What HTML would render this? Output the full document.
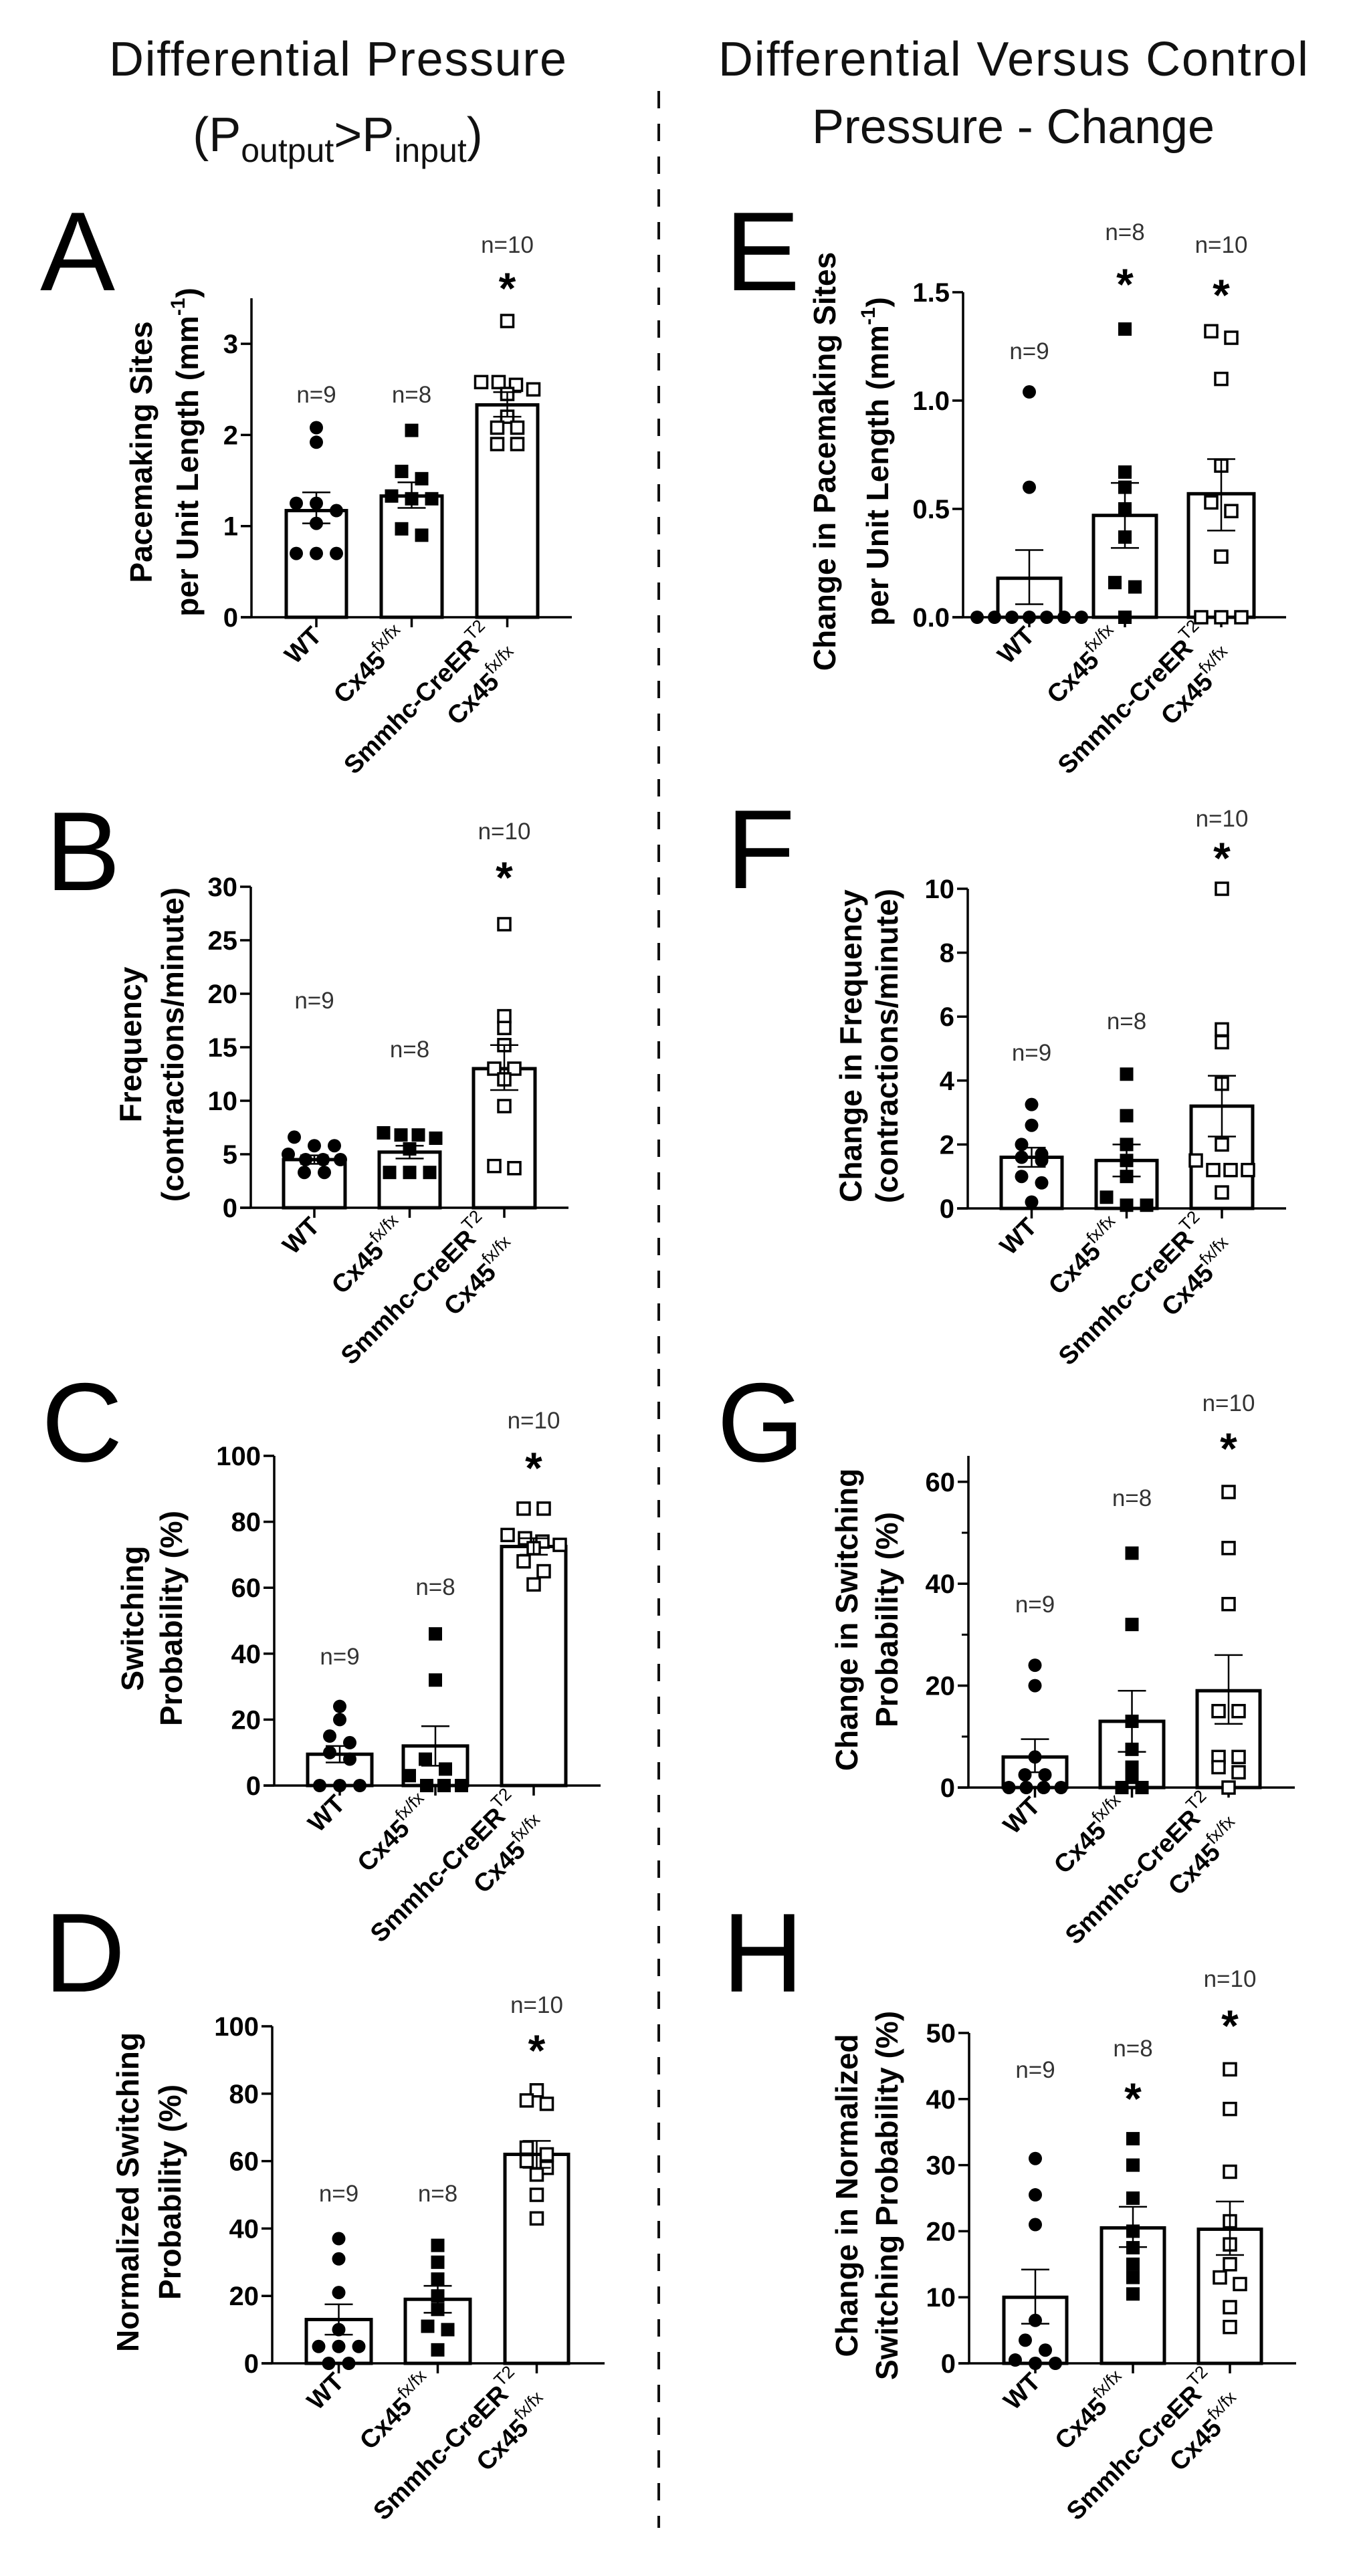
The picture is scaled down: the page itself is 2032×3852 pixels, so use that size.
<!DOCTYPE html>
<html><head><meta charset="utf-8">
<style>
html,body{margin:0;padding:0;background:#fff;}
svg{display:block;font-family:"Liberation Sans",Arial,sans-serif;}
</style></head>
<body>
<svg id="s" width="2032" height="3852" viewBox="0 0 2032 3852" xmlns="http://www.w3.org/2000/svg">
<rect width="2032" height="3852" fill="#fff"/>
<text x="505" y="113" font-size="72" text-anchor="middle" textLength="684" fill="#111">Differential Pressure</text>
<text x="505" y="226" font-size="72" text-anchor="middle" fill="#111">(P<tspan font-size="50" dy="16">output</tspan><tspan dy="-16">&gt;P</tspan><tspan font-size="50" dy="16">input</tspan><tspan dy="-16">)</tspan></text>
<text x="1515" y="113" font-size="72" text-anchor="middle" textLength="882" fill="#111">Differential Versus Control</text>
<text x="1515" y="214" font-size="72" text-anchor="middle" textLength="602" fill="#111">Pressure - Change</text>
<line x1="985" y1="136" x2="985" y2="3780" stroke="#111" stroke-width="4" stroke-dasharray="26 23"/>
<g font-size="168" fill="#000">
<text x="60" y="434">A</text><text x="68" y="1331">B</text><text x="62" y="2185">C</text><text x="66" y="2978">D</text>
<text x="1084" y="434">E</text><text x="1086" y="1328">F</text><text x="1072" y="2185">G</text><text x="1080" y="2978">H</text>
</g>
<g id="g"></g>
</svg>
<script>
var NS="http://www.w3.org/2000/svg",G=document.getElementById('g');
function el(t,a,par,txt){var e=document.createElementNS(NS,t);for(var k in a)e.setAttribute(k,a[k]);if(txt!==undefined)e.textContent=txt;(par||G).appendChild(e);return e;}
function line(x1,y1,x2,y2,w){el('line',{x1:x1,y1:y1,x2:x2,y2:y2,stroke:'#000','stroke-width':w||3});}
var P=[
{ax:376,xe:855,y0:923,s:136.3,top:446,ticks:[0,1,2,3],dec:0,bars:[[428,518],[570,661],[713,804]],means:[1.17,1.33,2.33],err:[[1.37,1.03],[1.48,1.2],[2.47,2.2]],
 pts:[[2.08,1.92,1.25,1.25,1.17,1.03,0.7,0.7,0.7],[2.05,1.6,1.52,1.33,1.3,1.3,0.97,0.9],[3.25,2.58,2.58,2.55,2.5,2.45,2.2,2.08,2.08,1.9,1.9]],
 n:[['n=9',590],['n=8',590],['n=10',366]],st:[[2,424]],tl:['Pacemaking Sites','per Unit Length (mm|-1|)'],tx:[227,296],cy:676},
{ax:375,xe:850,y0:1806,s:16,top:1326,ticks:[0,5,10,15,20,25,30],dec:0,bars:[[424,516],[567,658],[708,800]],means:[4.5,5.2,13],err:[[4.9,4.1],[5.8,4.6],[15.2,11]],
 pts:[[6.6,5.8,5.8,5,4.5,4.5,4.5,3.3,3.3],[7.0,6.8,6.8,6.5,5.5,3.3,3.3,3.3],[26.5,17.9,16.8,15.2,13,13,12,9.5,3.9,3.7]],
 n:[['n=9',1496],['n=8',1569],['n=10',1243]],st:[[2,1305]],tl:['Frequency','(contractions/minute)'],tx:[211,274],cy:1562},
{ax:410,xe:898,y0:2670,s:4.93,top:2177,ticks:[0,20,40,60,80,100],dec:0,bars:[[460,556],[603,699],[750,846]],means:[9.5,12,72.5],err:[[12,7],[18,6],[75,70]],
 pts:[[24,20,15,13,10,8,0,0,0],[46,32,8,5,3,0,0,0],[84,84,76,75,74,73,72,68,65,61]],
 n:[['n=9',2477],['n=8',2373],['n=10',2124]],st:[[2,2188]],tl:['Switching','Probability (%)'],tx:[214,272],cy:2420},
{ax:407,xe:904,y0:3534,s:5.04,top:3030,ticks:[0,20,40,60,80,100],dec:0,bars:[[458,555],[606,703],[755,850]],means:[13,19,62],err:[[17.5,8.5],[23,15],[66,58]],
 pts:[[37,31,21,10,5,5,5,0,0],[35,30,25,20,16,11,10,4],[81,78,77,64,62,60,58,56,50,43]],
 n:[['n=9',3280],['n=8',3280],['n=10',2998]],st:[[2,3059]],tl:['Normalized Switching','Probability (%)'],tx:[207,270],cy:3278},
{ax:1440,xe:1923,y0:923,s:324,top:437,ticks:[0,0.5,1,1.5],dec:1,bars:[[1492,1586],[1635,1729],[1777,1875]],means:[0.18,0.47,0.57],err:[[0.31,0.06],[0.62,0.32],[0.73,0.40]],
 pts:[[1.04,0.6,0,0,0,0,0,0,0],[1.33,0.67,0.6,0.5,0.37,0.16,0.14,0],[1.32,1.29,1.1,0.7,0.53,0.49,0.28,0,0,0]],
 n:[['n=9',525],['n=8',347],['n=10',366]],st:[[1,418],[2,434]],tl:['Change in Pacemaking Sites','per Unit Length (mm|-1|)'],tx:[1249,1328],cy:690},
{ax:1447,xe:1923,y0:1807,s:47.8,top:1329,ticks:[0,2,4,6,8,10],dec:0,bars:[[1497,1588],[1639,1730],[1781,1873]],means:[1.6,1.5,3.2],err:[[1.9,1.3],[2.0,1.0],[4.15,2.25]],
 pts:[[3.25,2.6,2.0,1.7,1.6,1.5,1.0,0.8,0.2],[4.2,2.9,2.0,1.5,1.0,0.35,0.1,0.1],[10,5.6,5.2,3.9,2.0,1.5,1.2,1.2,1.2,0.5]],
 n:[['n=9',1574],['n=8',1527],['n=10',1224]],st:[[2,1276]],tl:['Change in Frequency','(contractions/minute)'],tx:[1288,1342],cy:1564},
{ax:1448,xe:1936,y0:2673,s:7.62,top:2177,ticks:[0,20,40,60],minor:[10,30,50],dec:0,bars:[[1500,1595],[1645,1740],[1790,1884]],means:[6,13,19],err:[[9.5,3],[19,7],[26,12.5]],
 pts:[[24,20,6,2.5,2.5,0,0,0,0],[46,32,13,7.5,4,2,0,0],[58,47,36,15,15,6,6,4,3,0]],
 n:[['n=9',2399],['n=8',2240],['n=10',2098]],st:[[2,2159]],tl:['Change in Switching','Probability (%)'],tx:[1282,1342],cy:2422},
{ax:1449,xe:1938,y0:3534,s:9.88,top:3040,ticks:[0,10,20,30,40,50],dec:0,bars:[[1501,1595],[1647,1741],[1792,1886]],means:[10,20.5,20.3],err:[[14.2,6],[23.7,17.6],[24.5,16.4]],
 pts:[[31,25.5,21,6.5,3.5,2,0.5,0,0],[34,30,25,20,17.5,15,13,10.5],[44.5,38.5,29,21.5,18,15,13,12,8.5,5.5]],
 n:[['n=9',3095],['n=8',3063],['n=10',2959]],st:[[1,3131],[2,3022]],tl:['Change in Normalized','Switching Probability (%)'],tx:[1282,1342],cy:3283}
];
P.forEach(function(p){
 function Y(v){return p.y0-v*p.s;}
 line(p.ax,p.y0,p.ax,p.top,3.5);
 line(p.ax-16,p.y0,p.xe,p.y0,3.5);
 p.ticks.forEach(function(t){line(p.ax-16,Y(t),p.ax,Y(t),3.5);
  el('text',{x:p.ax-20,y:Y(t)+14,'font-size':40,'font-weight':'bold','text-anchor':'end'},null,t.toFixed(p.dec));});
 (p.minor||[]).forEach(function(t){line(p.ax-10,Y(t),p.ax,Y(t),3);});
 p.bars.forEach(function(b,i){
  var cx=(b[0]+b[1])/2;
  line(cx,p.y0,cx,p.y0+15,3.5);
  el('rect',{x:b[0],y:Y(p.means[i]),width:b[1]-b[0],height:p.y0-Y(p.means[i]),fill:'#fff',stroke:'#000','stroke-width':5});
  var v=p.pts[i].slice().sort(function(a,b){return b-a;}),rows=[],cur=[];
  v.forEach(function(x){if(cur.length&&Math.abs(Y(cur[0])-Y(x))>15){rows.push(cur);cur=[];}cur.push(x);});
  if(cur.length)rows.push(cur);
  rows.forEach(function(r){r.forEach(function(x,k){var off=(k-(r.length-1)/2)*(r.length>3?26:30);var px=cx+off,py=Y(x);
   if(i==0)el('circle',{cx:px,cy:py,r:10,fill:'#000'});
   else if(i==1)el('rect',{x:px-10,y:py-10,width:20,height:20,fill:'#000'});
   else el('rect',{x:px-9,y:py-9,width:18,height:18,fill:'#fff',stroke:'#000','stroke-width':3.5});});});
  var e=p.err[i];
  line(cx,Y(e[0]),cx,Y(e[1]),2.5);line(cx-21,Y(e[0]),cx+21,Y(e[0]),2.5);line(cx-21,Y(e[1]),cx+21,Y(e[1]),2.5);
  el('text',{x:cx,y:p.n[i][1]+12,'font-size':35,'text-anchor':'middle',fill:'#333'},null,p.n[i][0]);
 });
 p.st.forEach(function(s){var b=p.bars[s[0]];el('text',{x:(b[0]+b[1])/2,y:s[1]+30,'font-size':66,'font-weight':'bold','text-anchor':'middle'},null,'*');});
 // category labels
 var c=p.bars.map(function(b){return (b[0]+b[1])/2;}),y0=p.y0;
 var t=el('text',{transform:'translate('+(c[0]+10)+','+(y0+30)+') rotate(-45)','font-size':38,'font-weight':'bold','text-anchor':'end'},null,'WT');
 function cxl(tx,ty,main,sup){var t=el('text',{transform:'translate('+tx+','+ty+') rotate(-45)','font-size':38,'font-weight':'bold','text-anchor':'end'});
  el('tspan',{},t,main);el('tspan',{'font-size':26,'font-weight':'normal',dy:-18},t,sup);return t;}
 cxl(c[1]-3,y0+33,'Cx45','fx/fx');
 cxl(c[2]-19,y0+27,'Smmhc-CreER','T2');
 var tx2=c[2]-19+0.707*3+0.707*57,ty2=y0+27-0.707*3+0.707*57;
 cxl(tx2,ty2,'Cx45','fx/fx');
 // axis title
 p.tl.forEach(function(s,k){var t=el('text',{transform:'translate('+p.tx[k]+','+p.cy+') rotate(-90)','font-size':46,'font-weight':'bold','text-anchor':'middle'});
  var parts=s.split('|');el('tspan',{},t,parts[0]);
  if(parts.length>1){el('tspan',{'font-size':30,dy:-20},t,parts[1]);el('tspan',{dy:20},t,parts[2]);}});
});
</script>
</body></html>
